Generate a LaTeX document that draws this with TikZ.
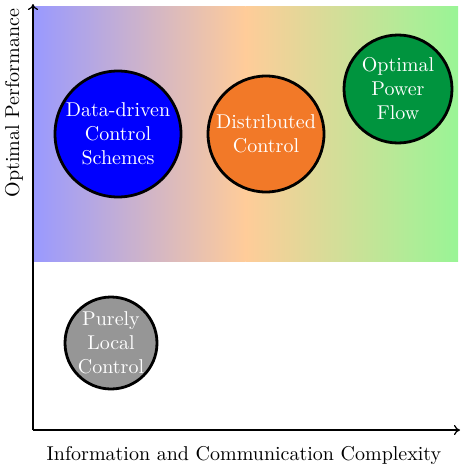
\documentclass[tikz,border=0pt]{standalone}
\usetikzlibrary{arrows.meta}
\definecolor{ddblue}{RGB}{0,0,255}
\definecolor{dcorange}{RGB}{242,121,40}
\definecolor{opfgreen}{RGB}{0,148,62}
\definecolor{localgray}{RGB}{150,150,150}
\definecolor{lblue}{RGB}{153,153,255}
\definecolor{lorange}{RGB}{255,204,153}
\definecolor{lgreen}{RGB}{153,245,150}
\begin{document}
\begin{tikzpicture}[x=0.5pt,y=-0.5pt,
  scheme/.style={circle,draw=black,line width=1.4pt,text=white,align=center,inner sep=0pt},
  axis/.style={line width=0.6pt,-{To[length=3pt,width=5pt]}}]
\useasboundingbox (0,0) rectangle (471,471);
% shaded band of high performance
\shade[left color=lblue,right color=lorange] (33,6) rectangle (245.5,261);
\shade[left color=lorange,right color=lgreen] (245.3,6) rectangle (458,261);
% axes
\coordinate (o) at (33,430);
\coordinate (ytop) at (33,4);
\coordinate (xend) at (460,430);
\draw[axis] (o) -- (ytop);
\draw[axis] (o) -- (xend);
\node (xlab) at (244,455) {Information and Communication Complexity};
\node[rotate=90] (ylab) at (14,103) {Optimal Performance};
% control schemes
\node[scheme,fill=ddblue,minimum size=63pt] (dd) at (118,134) {Data-driven\\Control\\Schemes};
\node[scheme,fill=dcorange,minimum size=58pt] (dc) at (266,134) {Distributed\\Control};
\node[scheme,fill=opfgreen,minimum size=54pt] (opf) at (398,89) {Optimal\\Power\\Flow};
\node[scheme,fill=localgray,minimum size=46pt] (loc) at (111,343) {Purely\\Local\\Control};
\end{tikzpicture}
\end{document}
